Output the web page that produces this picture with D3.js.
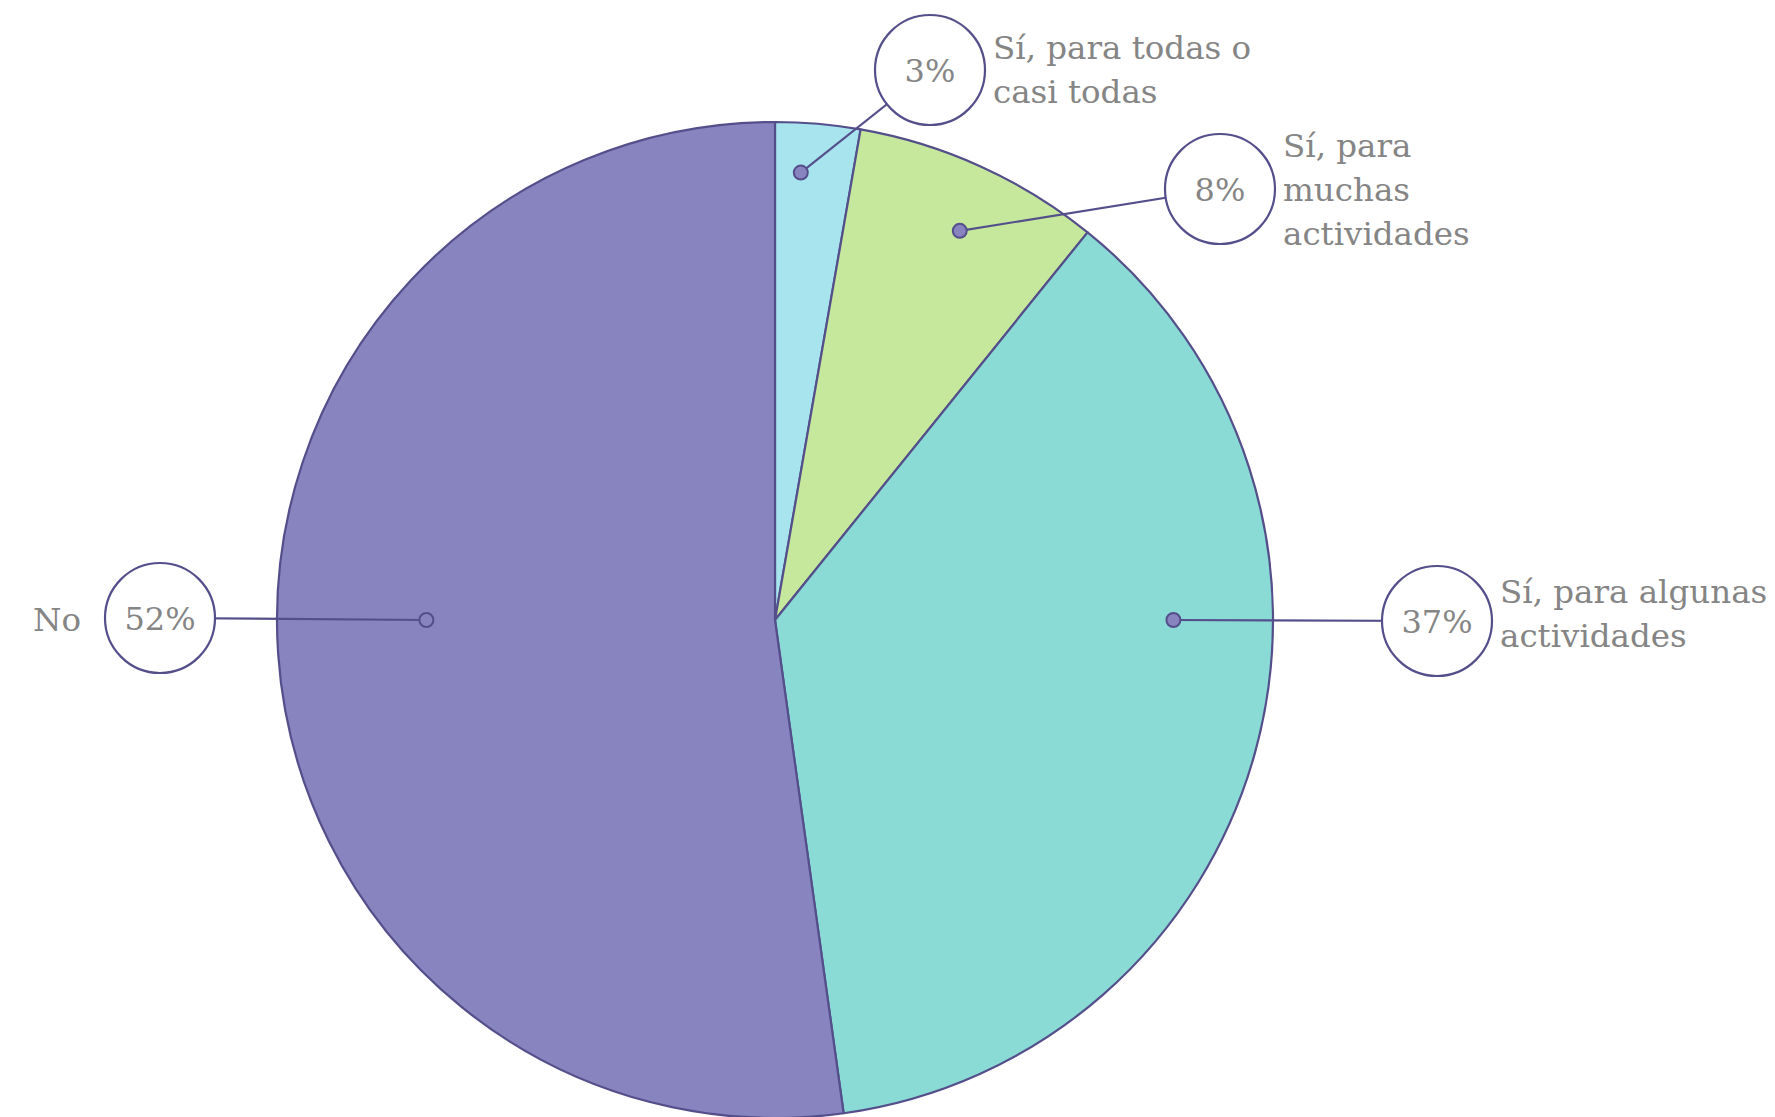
<!DOCTYPE html>
<html>
<head>
<meta charset="utf-8">
<script src="https://cdn.jsdelivr.net/npm/d3@7"></script>
<style>
  body { margin: 0; background: #ffffff; }
  svg text { font-family: "DejaVu Serif", "Liberation Serif", serif; fill: #858585; }
</style>
</head>
<body>
<svg id="chart"></svg>
<script>
// data (shares, shown rounded in the bubbles)
var categories = ["Sí, para todas o casi todas", "Sí, para muchas actividades", "Sí, para algunas actividades", "No"];
var values = [2.75, 8.05, 37.0, 52.2];
var labelLines = [["Sí, para todas o", "casi todas"], ["Sí, para", "muchas", "actividades"], ["Sí, para algunas", "actividades"], ["No"]];
var colors = ["#a8e4ee", "#c5e89d", "#8adad5", "#8884c0"];

// callout layout (dot angle in degrees, dot radius as fraction of pie radius,
// bubble offset from centre, first label baseline relative to bubble centre)
var dotAngle = [3.3, 25.4, 90, 270];
var dotRadius = [0.9, 0.865, 0.8, 0.7];
var bubbleOffset = [[155, -550], [445, -431], [662, 1], [-615, -2]];
var labelDy = [-11, -32, -18, 13];

var width = 1775, height = 1117;
var cx = 775, cy = 620, R = 498;
var bubbleR = 55;
var lineColor = "#544f8a";

var svg = d3.select("#chart")
    .attr("width", width)
    .attr("height", height);

var g = svg.append("g")
    .attr("transform", "translate(" + cx + "," + cy + ")");

var pie = d3.pie().sort(null).value(function(d){ return d; });
var arc = d3.arc().innerRadius(0).outerRadius(R);
var arcs = pie(values);

g.selectAll("path.slice")
    .data(arcs)
    .enter()
    .append("path")
    .attr("class", "slice")
    .attr("d", arc)
    .style("fill", function(d, i){ return colors[i]; })
    .style("stroke", lineColor)
    .style("stroke-width", "2.2px")
    .style("stroke-linejoin", "round");

function dotPos(i){
    var a = dotAngle[i] * Math.PI / 180;
    var r = dotRadius[i] * R;
    return [Math.sin(a) * r, -Math.cos(a) * r];
}

var callouts = g.selectAll("g.callout")
    .data(arcs)
    .enter()
    .append("g")
    .attr("class", "callout");

// leader lines
callouts.append("line")
    .attr("x1", function(d, i){ return dotPos(i)[0]; })
    .attr("y1", function(d, i){ return dotPos(i)[1]; })
    .attr("x2", function(d, i){ return bubbleOffset[i][0]; })
    .attr("y2", function(d, i){ return bubbleOffset[i][1]; })
    .style("stroke", lineColor)
    .style("stroke-width", "2.2px");

// dots
callouts.append("circle")
    .attr("cx", function(d, i){ return dotPos(i)[0]; })
    .attr("cy", function(d, i){ return dotPos(i)[1]; })
    .attr("r", 7)
    .style("fill", "#8884c0")
    .style("stroke", lineColor)
    .style("stroke-width", "2px");

// bubbles
callouts.append("circle")
    .attr("cx", function(d, i){ return bubbleOffset[i][0]; })
    .attr("cy", function(d, i){ return bubbleOffset[i][1]; })
    .attr("r", bubbleR)
    .style("fill", "#ffffff")
    .style("stroke", lineColor)
    .style("stroke-width", "2.2px");

callouts.append("text")
    .attr("x", function(d, i){ return bubbleOffset[i][0]; })
    .attr("y", function(d, i){ return bubbleOffset[i][1] + 12; })
    .attr("text-anchor", "middle")
    .style("font-size", "32px")
    .text(function(d){ return Math.round(d.value) + "%"; });

// category labels
var lineH = 44;
callouts.append("text")
    .attr("text-anchor", function(d, i){ return bubbleOffset[i][0] < 0 ? "end" : "start"; })
    .style("font-size", "32.5px")
    .each(function(d, i){
        var left = bubbleOffset[i][0] < 0;
        var x = left ? bubbleOffset[i][0] - bubbleR - 24 : bubbleOffset[i][0] + bubbleR + 8;
        var y0 = bubbleOffset[i][1] + labelDy[i];
        d3.select(this).selectAll("tspan")
            .data(labelLines[i])
            .enter()
            .append("tspan")
            .attr("x", x)
            .attr("y", function(t, j){ return y0 + j * lineH; })
            .text(function(t){ return t; });
    });
</script>
</body>
</html>
